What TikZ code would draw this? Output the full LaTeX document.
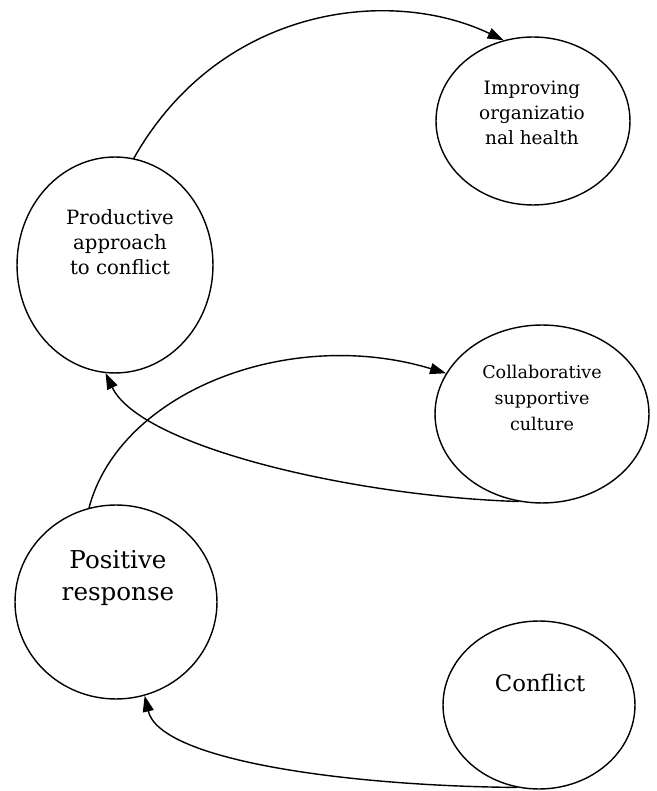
\documentclass[tikz,border=0pt]{standalone}
\usepackage{fontspec}
\setmainfont{DejaVu Serif}
\usepackage{tikz}
\usetikzlibrary{arrows.meta,shapes.geometric}

\begin{document}
\begin{tikzpicture}[
      x=0.02cm,y=0.02cm,
      blob/.style={draw,ellipse,line width=0.8pt,inner sep=0pt},
      txt/.style={align=center,inner sep=0pt,font=\fontsize{10.5}{14.2}\selectfont},
      bigtxt/.style={txt,font=\fontsize{14}{18.2}\selectfont},
      link/.style={draw,line width=0.8pt,-{Triangle[length=3.2mm,width=2.2mm]}}]

    \useasboundingbox (0,0) rectangle (656,791);

    \node[blob,minimum width=3.92cm,minimum height=4.32cm] (prod) at (115,526) {};
    \node[blob,minimum width=3.88cm,minimum height=3.36cm] (impr) at (533,670) {};
    \node[blob,minimum width=4.28cm,minimum height=3.56cm] (collab) at (542,377) {};
    \node[blob,minimum width=4.04cm,minimum height=3.88cm] (posit) at (116,189) {};
    \node[blob,minimum width=3.84cm,minimum height=3.36cm] (confl) at (539,86) {};

    \node[txt,font=\fontsize{11.2}{14.4}\selectfont] (prodtxt) at (120,549)
      {Productive\\approach\\to conflict};
    \node[txt] (imprtxt) at (532,678) {Improving\\organizatio\\nal health};
    \node[txt,font=\fontsize{10}{14.7}\selectfont] (collabtxt) at (542,393)
      {Collaborative\\supportive\\culture};
    \node[bigtxt] (posittxt) at (118,213) {Positive\\response};
    \node[txt,font=\fontsize{13}{15}\selectfont] (confltxt) at (540,108) {Conflict};

    \draw[link] (prod.80) .. controls (220,785) and (390,805) .. (impr.110);
    \draw[link] (posit.106) .. controls (120,400) and (290,465) .. (collab.157);
    \draw[link] (collab.255) .. controls (350,295) and (140,345) .. (prod.265);
    \draw[link] (confl.255) .. controls (350,5) and (160,30) .. (posit.287);
  \end{tikzpicture}
\end{document}
